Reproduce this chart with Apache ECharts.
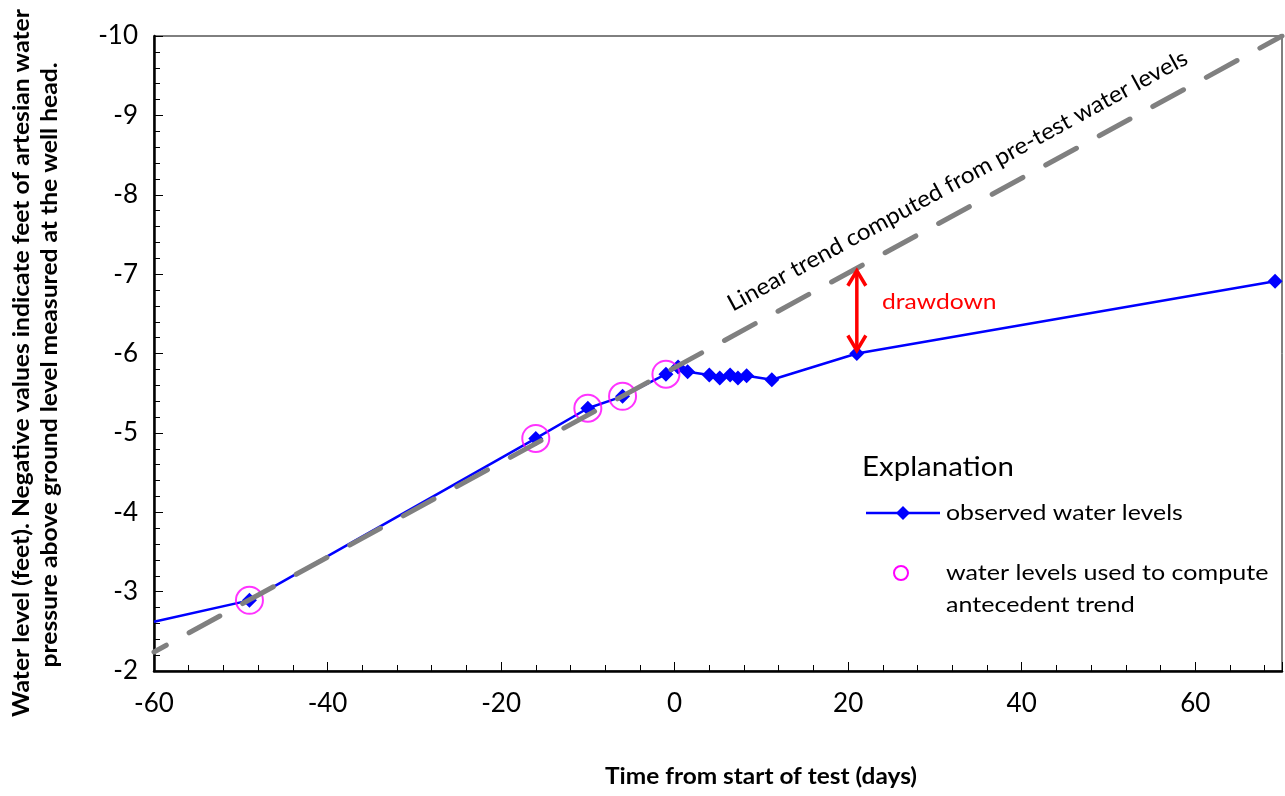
<!DOCTYPE html>
<html>
<head>
<meta charset="utf-8">
<script src="https://cdn.jsdelivr.net/npm/echarts@6/dist/echarts.min.js"></script>
<style>
html,body{margin:0;padding:0;background:#fff;}
#chart{width:1285px;height:796px;}
</style>
</head>
<body>
<div id="chart"></div>
<script>
// ---- data ----
const obsX = [-60, -49, -16, -10, -6, -1, 0.4, 1.5, 4, 5.2, 6.4, 7.3, 8.3, 11.2, 21, 69.2];
const obsY = [-2.62, -2.89, -4.93, -5.31, -5.46, -5.74, -5.83, -5.77, -5.73, -5.69, -5.73, -5.69, -5.72, -5.67, -6.0, -6.91];
const usedX = [-49, -16, -10, -6, -1];
const usedY = [-2.89, -4.93, -5.31, -5.46, -5.74];
const trendX = [-60, 70];
const trendY = [-2.24, -10];
const drawdown = [21, -7.08, -6.0]; // x, trend value, observed value
const xTicks = [-60, -40, -20, 0, 20, 40, 60];
const yTicks = [-10, -9, -8, -7, -6, -5, -4, -3, -2];

const FONT = 'Lato, "Open Sans", sans-serif';
const chart = echarts.init(document.getElementById('chart'), null, {renderer: 'canvas'});

const obsData = obsX.map((x, i) => i === 0 ? {value: [x, obsY[i]], symbol: 'none'} : [x, obsY[i]]);

function txt(str, x, y, font, opts) {
  opts = opts || {};
  const align = opts.align || 'left';
  const valign = opts.valign || 'middle';
  return {
    type: 'text', x: x, y: y, rotation: opts.rotation || 0, scaleX: opts.scaleX || 1, scaleY: 1,
    style: {text: str, x: 0, y: 0, fill: opts.color || '#000', font: font,
      align: align, verticalAlign: valign, textAlign: align, textVerticalAlign: valign}
  };
}

const option = {
  backgroundColor: '#ffffff',
  animation: false,
  grid: {left: 154, right: 3, top: 36, bottom: 125, show: true, borderColor: '#000', borderWidth: 1, backgroundColor: 'transparent'},
  xAxis: {
    type: 'value', min: -60, max: 70, interval: 20,
    axisLine: {show: true, onZero: false, lineStyle: {color: '#000', width: 2.5}},
    axisTick: {show: true, inside: true, length: 9, lineStyle: {color: '#000', width: 1}},
    minorTick: {show: true, splitNumber: 5, length: 6, lineStyle: {color: '#000', width: 1}},
    splitLine: {show: false},
    axisLabel: {color: '#000', fontFamily: FONT, fontSize: 26, margin: 20, showMaxLabel: false,
      formatter: v => xTicks.indexOf(v) >= 0 ? String(v) : ''}
  },
  yAxis: {
    type: 'value', min: -10, max: -2, interval: 1, inverse: true,
    axisLine: {show: true, onZero: false, lineStyle: {color: '#000', width: 2.5}},
    axisTick: {show: true, inside: true, length: 9, lineStyle: {color: '#000', width: 1}},
    minorTick: {show: true, splitNumber: 5, length: 6, lineStyle: {color: '#000', width: 1}},
    splitLine: {show: false},
    axisLabel: {color: '#000', fontFamily: FONT, fontSize: 26, margin: 16,
      formatter: v => yTicks.indexOf(v) >= 0 ? String(v) : ''}
  },
  series: [
    {
      name: 'observed water levels', type: 'line', data: obsData,
      symbol: 'diamond', symbolSize: 15, showSymbol: true,
      itemStyle: {color: '#0000ff'},
      lineStyle: {color: '#0000ff', width: 2.5},
      z: 2
    },
    {
      name: 'water levels used to compute antecedent trend', type: 'scatter',
      data: usedX.map((x, i) => [x, usedY[i]]),
      symbol: 'circle', symbolSize: 27,
      itemStyle: {color: 'rgba(0,0,0,0)', borderColor: '#ff00ff', borderWidth: 2},
      z: 3
    },
    {
      name: 'trend', type: 'line', data: trendX.map((x, i) => [x, trendY[i]]),
      symbol: 'none',
      lineStyle: {color: '#808080', width: 5, type: [35, 26], dashOffset: 21, cap: 'round'},
      z: 4
    },
    {
      name: 'drawdown', type: 'custom', data: [drawdown],
      renderItem: function (params, api) {
        const p1 = api.coord([api.value(0), api.value(1)]);
        const p2 = api.coord([api.value(0), api.value(2)]);
        const t = p1[1] + 3, b = p2[1] - 3;
        const s = {stroke: '#ff0000', lineWidth: 3.5, fill: null, lineCap: 'butt', lineJoin: 'miter'};
        return {type: 'group', children: [
          {type: 'line', shape: {x1: p1[0], y1: t, x2: p2[0], y2: b}, style: s},
          {type: 'polyline', shape: {points: [[p1[0] - 9, t + 15], [p1[0], t], [p1[0] + 9, t + 15]]}, style: s},
          {type: 'polyline', shape: {points: [[p2[0] - 9, b - 15], [p2[0], b], [p2[0] + 9, b - 15]]}, style: s}
        ]};
      },
      z: 5
    }
  ],
  graphic: [
    txt('Linear trend computed from pre-test water levels', 963, 191, '23px ' + FONT, {align: 'center', valign: 'bottom', rotation: 0.499, scaleX: 1.05}),
    txt('drawdown', 882, 302, '22px ' + FONT, {color: '#ff0000', scaleX: 1.12}),
    // legend ("Explanation")
    txt('Explanation', 862, 467, '27px ' + FONT, {scaleX: 1.09}),
    {type: 'line', shape: {x1: 866, y1: 513, x2: 940, y2: 513}, style: {stroke: '#0000ff', lineWidth: 2.5}},
    {type: 'polygon', shape: {points: [[903, 506], [910, 513], [903, 520], [896, 513]]}, style: {fill: '#0000ff'}},
    txt('observed water levels', 946, 513, '22px ' + FONT, {scaleX: 1.13}),
    {type: 'circle', shape: {cx: 901, cy: 573, r: 7}, style: {fill: 'none', stroke: '#ff00ff', lineWidth: 2}},
    txt('water levels used to compute', 946, 573, '22px ' + FONT, {scaleX: 1.14}),
    txt('antecedent trend', 946, 605, '22px ' + FONT, {scaleX: 1.14}),
    // axis titles
    txt('Time from start of test (days)', 761, 777, 'bold 22px ' + FONT, {align: 'center', scaleX: 1.11}),
    txt('Water level (feet). Negative values indicate feet of artesian water', 22, 363, 'bold 22px ' + FONT, {align: 'center', rotation: Math.PI / 2, scaleX: 1.12}),
    txt('pressure above ground level measured at the well head.', 50, 365, 'bold 22px ' + FONT, {align: 'center', rotation: Math.PI / 2, scaleX: 1.12})
  ]
};
chart.setOption(option);
</script>
</body>
</html>
